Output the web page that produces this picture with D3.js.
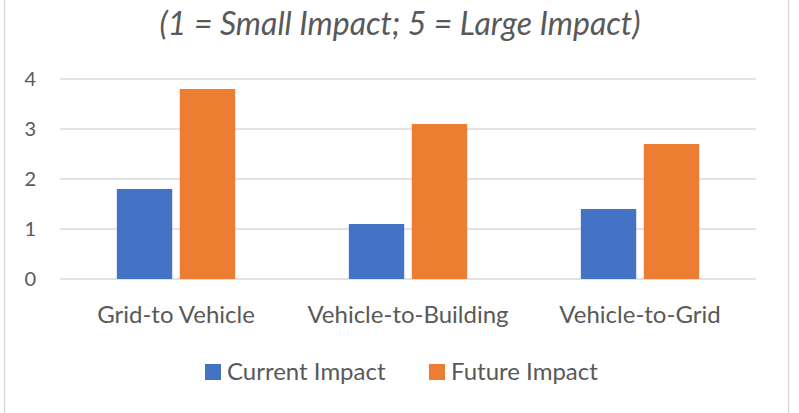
<!DOCTYPE html>
<html>
<head>
<meta charset="utf-8">
<script src="https://cdn.jsdelivr.net/npm/d3@7"></script>
<style>
  body { margin: 0; background: #fff; }
  text { font-family: Lato, "Open Sans", sans-serif; fill: #595959; }
</style>
</head>
<body>
<svg id="chart"></svg>
<script>
// data
const categories = ['Grid-to Vehicle', 'Vehicle-to-Building', 'Vehicle-to-Grid']
const seriesNames = ['Current Impact', 'Future Impact']
const currentImpact = [1.8, 1.1, 1.4]
const futureImpact = [3.8, 3.1, 2.7]
const yTicks = [0, 1, 2, 3, 4]
const titleText = '(1 = Small Impact; 5 = Large Impact)'

const width = 799
const height = 413
const colors = ['#4472C4', '#ED7D31']

const plot = { left: 60, right: 756, top: 79, bottom: 279 }

const svg = d3.select('svg#chart').attr('width', width).attr('height', height)

// chart frame
svg.append('rect')
  .attr('x', 4.5).attr('y', -2)
  .attr('width', 784).attr('height', height + 4)
  .attr('fill', '#fff').attr('stroke', '#d9d9d9').attr('stroke-width', 1.5)

// title
svg.append('text')
  .attr('x', 400).attr('y', 35)
  .attr('text-anchor', 'middle')
  .style('font-style', 'italic')
  .style('font-size', '32px')
  .text(titleText)

const xScale = d3.scaleBand()
  .domain(categories)
  .range([plot.left, plot.right])
  .paddingInner(0.49)
  .paddingOuter(0.245)

const xInner = d3.scaleBand()
  .domain(seriesNames)
  .range([0, xScale.bandwidth()])
  .paddingInner(0.12)

const yScale = d3.scaleLinear()
  .domain([0, 4])
  .range([plot.bottom, plot.top])

// gridlines
svg.append('g').selectAll('line').data(yTicks)
  .enter().append('line')
  .attr('x1', plot.left).attr('x2', plot.right)
  .attr('y1', d => yScale(d)).attr('y2', d => yScale(d))
  .attr('stroke', '#d9d9d9').attr('stroke-width', 1.5)

// y labels
svg.append('g').selectAll('text').data(yTicks)
  .enter().append('text')
  .attr('x', 36).attr('y', d => yScale(d))
  .attr('dy', '0.35em')
  .attr('text-anchor', 'end')
  .style('font-size', '20px')
  .text(d => d)

// bars
const rows = categories.map((c, i) => ({ cat: c, values: [currentImpact[i], futureImpact[i]] }))

const groups = svg.append('g').selectAll('g').data(rows)
  .enter().append('g')
  .attr('transform', d => 'translate(' + xScale(d.cat) + ',0)')

groups.selectAll('rect')
  .data(d => d.values.map((v, j) => ({ name: seriesNames[j], value: v, idx: j })))
  .enter().append('rect')
  .attr('x', d => xInner(d.name))
  .attr('width', xInner.bandwidth())
  .attr('y', d => yScale(d.value))
  .attr('height', d => yScale(0) - yScale(d.value))
  .attr('fill', d => colors[d.idx])

// category labels
svg.append('g').selectAll('text').data(categories)
  .enter().append('text')
  .attr('x', d => xScale(d) + xScale.bandwidth() / 2)
  .attr('y', 323)
  .attr('text-anchor', 'middle')
  .style('font-size', '24px')
  .text(d => d)

// legend
const legendItems = [
  { name: seriesNames[0], x: 205 },
  { name: seriesNames[1], x: 429 }
]
const legend = svg.append('g').selectAll('g').data(legendItems)
  .enter().append('g')
  .attr('transform', d => 'translate(' + d.x + ',364)')

legend.append('rect')
  .attr('width', 16).attr('height', 16)
  .attr('fill', (d, i) => colors[i])

legend.append('text')
  .attr('x', 22).attr('y', 16)
  .style('font-size', '24px')
  .text(d => d.name)
</script>
</body>
</html>
